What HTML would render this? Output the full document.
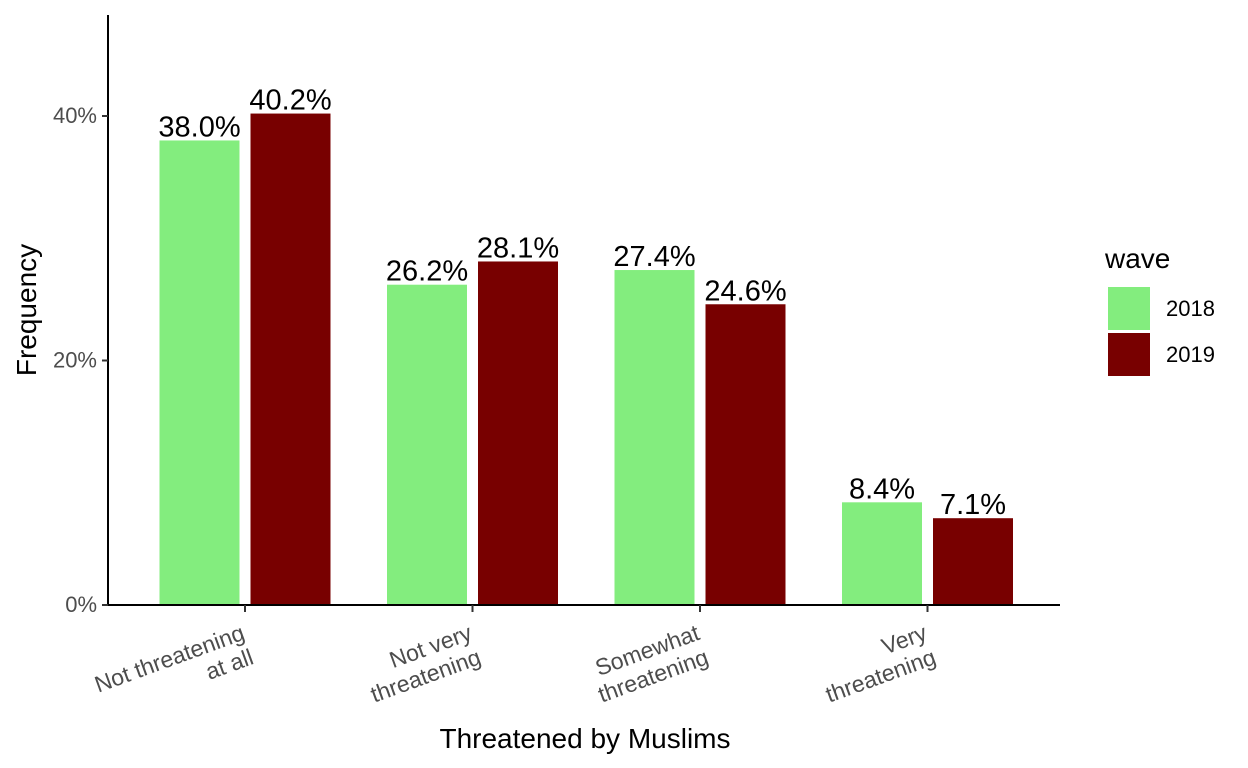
<!DOCTYPE html>
<html><head><meta charset="utf-8"><style>body{margin:0;background:#fff}svg{display:block;font-family:"Liberation Sans",Arial,sans-serif}</style></head>
<body>
<svg id="chart" width="1248" height="768"></svg>
<script>
const categories=[["Not threatening","at all"],["Not very","threatening"],["Somewhat","threatening"],["Very","threatening"]];
const waves=["2018","2019"];
const values2018=[38.0,26.2,27.4,8.4];
const values2019=[40.2,28.1,24.6,7.1];
const yTicks=[0,20,40];
const colors=["#83ED7E","#780000"];
const NS="http://www.w3.org/2000/svg";
const svg=document.getElementById("chart");
function el(t,a,txt){const e=document.createElementNS(NS,t);for(const k in a)e.setAttribute(k,a[k]);if(txt!==undefined)e.textContent=txt;svg.appendChild(e);return e;}
const y=v=>605-v*12.225;
const x=i=>245+i*227.5;
const bw=80,off=45.5;
const series=[values2018,values2019];
series.forEach((vals,s)=>{vals.forEach((v,i)=>{
 const cx=x(i)+(s===0?-off:off);
 const r=el("rect",{x:cx-bw/2,y:y(v),width:bw,height:605-y(v),fill:colors[s]});
 
 
 const t=el("text",{x:cx,y:y(v)-4,"text-anchor":"middle","font-size":"29",fill:"#000"},v.toFixed(1)+"%");
 
 
});});
const ya=el("line",{x1:108,y1:15,x2:108,y2:606,stroke:"#000","stroke-width":2});

const xa=el("line",{x1:107,y1:605,x2:1060,y2:605,stroke:"#000","stroke-width":2});

yTicks.forEach(v=>{
 el("line",{x1:102,y1:y(v),x2:108,y2:y(v),stroke:"#333","stroke-width":2});
 const t=el("text",{x:97,y:y(v)+7,"text-anchor":"end","font-size":"22",fill:"#4d4d4d"},v+"%");
 
 
});
categories.forEach((c,i)=>{
 el("line",{x1:x(i),y1:605,x2:x(i),y2:612,stroke:"#333","stroke-width":2});
 const t=el("text",{"text-anchor":"end","font-size":"23",fill:"#4d4d4d",transform:`translate(${x(i)+1},${639}) rotate(-20)`});
 
 
 c.forEach((line,j)=>{const ts=document.createElementNS(NS,"tspan");ts.setAttribute("x",0);ts.setAttribute("y",j*26);ts.textContent=line;t.appendChild(ts);});
});
const xt=el("text",{x:585,y:748,"text-anchor":"middle","font-size":"28",fill:"#000"},"Threatened by Muslims");

const yt=el("text",{"text-anchor":"middle","font-size":"28",fill:"#000",transform:"translate(36,310) rotate(-90)"},"Frequency");

const lt=el("text",{x:1105,y:268,"font-size":"28",fill:"#000"},"wave");

waves.forEach((w,s)=>{
 const k=el("rect",{x:1108,y:287+s*46,width:42,height:43,fill:colors[s]});
 
 const t=el("text",{x:1166,y:316+s*46,"font-size":"22",fill:"#000"},w);
 
});
</script>
</body></html>
